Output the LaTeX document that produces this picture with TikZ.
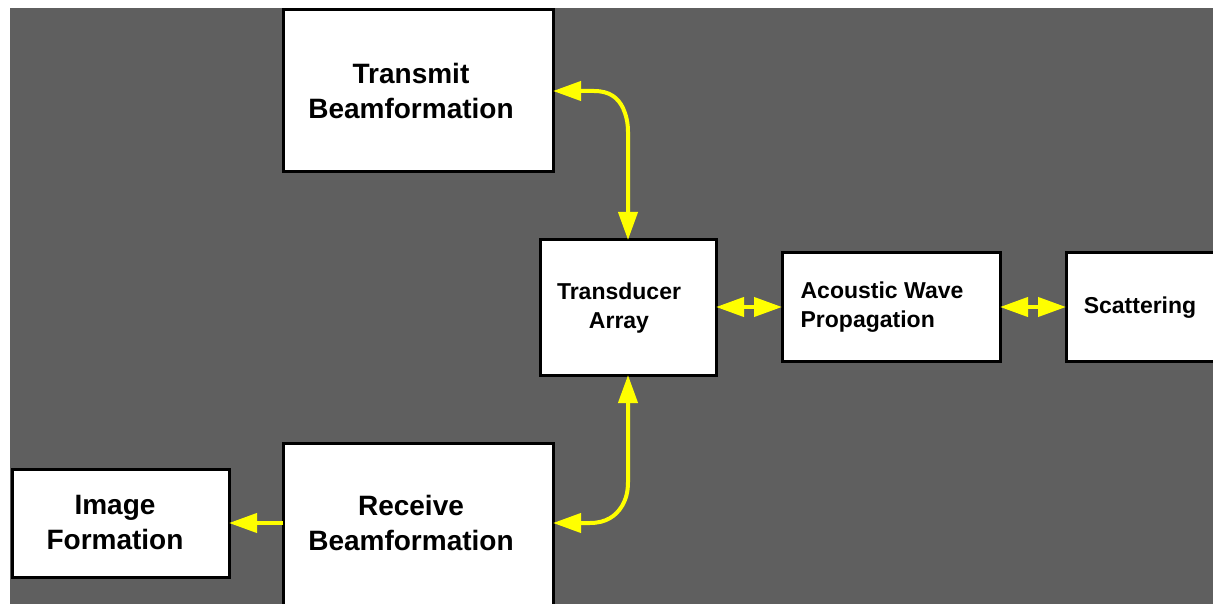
\documentclass[tikz,border=0pt]{standalone}
\usepackage{fontspec}
\setmainfont{Liberation Sans}
\usetikzlibrary{arrows.meta}
\definecolor{bggray}{HTML}{5F5F5F}
\definecolor{arrowyellow}{HTML}{FFFF00}
\tikzset{
  box/.style={draw=black, line width=3pt, fill=white, inner sep=0pt, outer sep=0pt, anchor=north west},
  bigtxt/.style={font=\fontsize{28}{35}\selectfont\bfseries, align=center, inner sep=0pt},
  smalltxt/.style={font=\fontsize{23}{29}\selectfont\bfseries, align=center, inner sep=0pt},
  conn/.style={draw=arrowyellow, line width=4pt, line join=round},
  tip/.tip={Triangle[length=28pt,width=19pt]},
  onehead/.style={conn, -tip},
  twoheads/.style={conn, tip-tip}
}
\begin{document}
\begin{tikzpicture}[x=1pt,y=-1pt]
\useasboundingbox (0,0) rectangle (1213,604);
\clip (0,0) rectangle (1213,604);
\fill[white] (0,0) rectangle (1213,604);
\fill[bggray] (10,8) rectangle (1213,604);
% boxes
\node[box, minimum width=270pt, minimum height=162pt] (tx) at (283,10) {};
\node[box, minimum width=176pt, minimum height=135pt] (ta) at (540,240) {};
\node[box, minimum width=218pt, minimum height=108pt] (ac) at (782,253) {};
\node[box, minimum width=170pt, minimum height=108pt] (sc) at (1066,253) {};
\node[box, minimum width=270pt, minimum height=170pt] (rx) at (283,443) {};
\node[box, minimum width=217pt, minimum height=108pt] (im) at (12,469) {};
% texts
\node[bigtxt] (txl) at (411,91) {Transmit\\Beamformation};
\node[bigtxt] (rxl) at (411,523) {Receive\\Beamformation};
\node[bigtxt] (iml) at (115,523) {Image\\Formation};
\node[smalltxt] (tal) at (619,308) {Transducer\\Array};
\node[smalltxt, align=left] (acl) at (882,307) {Acoustic Wave\\Propagation};
\node[smalltxt] (scl) at (1140,308) {Scattering};
% connectors
\draw[twoheads] (tx.east) -- (594,91) .. controls (610,91) and (618,98) .. (623,108) .. controls (626,115) and (628,122) .. (628,132) -- (ta.north);
\draw[twoheads] (ta.south) -- (628,482) .. controls (628,492) and (626,499) .. (622,506) .. controls (616,516) and (606,523) .. (590,523) -- (rx.east |- im.east);
\draw[twoheads] (ta.east |- ac.west) -- (ac.west);
\draw[twoheads] (ac.east) -- (sc.west);
\draw[onehead] (rx.west |- im.east) -- (im.east);
\end{tikzpicture}
\end{document}
